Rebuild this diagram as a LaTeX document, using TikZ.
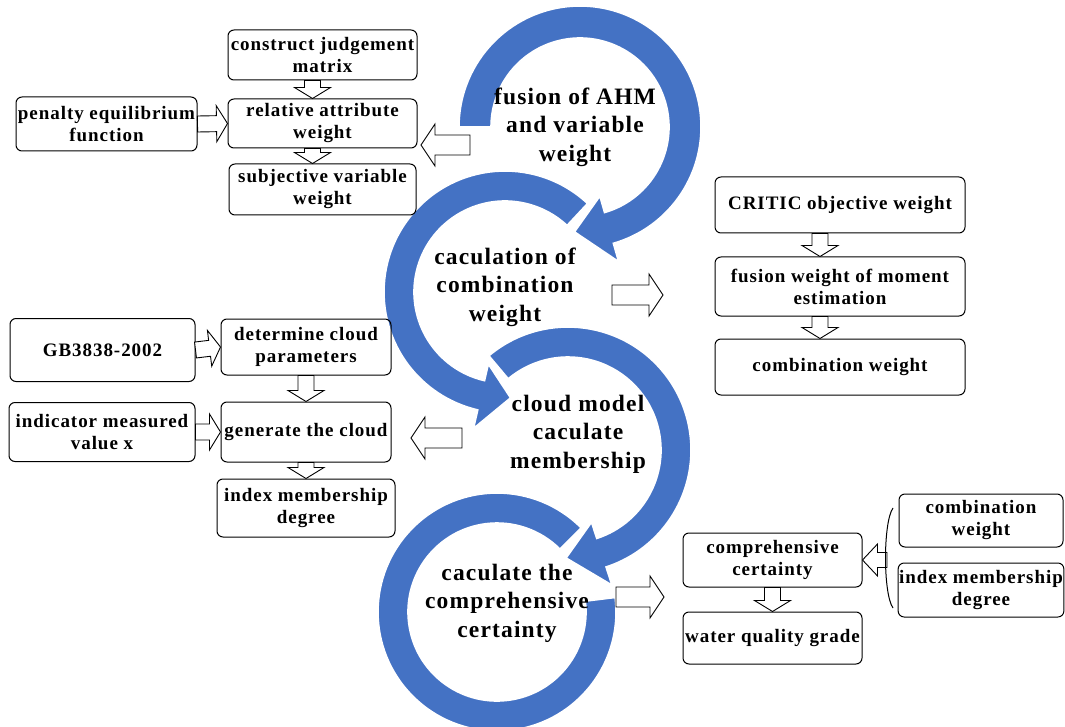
\documentclass[tikz,border=0pt]{standalone}
\usepackage{fontspec}
\setmainfont{Liberation Serif}[LetterSpace=5]
\usepackage{tikz}
\usetikzlibrary{calc, positioning}
\definecolor{ringblue}{RGB}{68,114,196}

% ring arrow: center, start angle, end angle, tip angle, outer radius, inner radius
\newcommand{\cyclearrow}[6]{%
  \fill[ring, shift={(#1)}] (#2:#5) arc[start angle=#2, end angle=#3, radius=#5]
    -- (#3:{#5+19}) -- (#4:{(#5+#6)/2}) -- (#3:{#6-17}) -- (#3:#6)
    arc[start angle=#3, end angle=#2, radius=#6] -- cycle;}

\begin{document}
\begin{tikzpicture}[
    x=1pt, y=-1pt,
    box/.style={rectangle, draw, line width=1pt, rounded corners=6pt, align=center, inner sep=1pt, font=\fontsize{19}{22}\selectfont\bfseries},
    cycletext/.style={align=center, font=\fontsize{23.5}{28.5}\selectfont\bfseries},
    ring/.style={fill=ringblue, draw=white, line width=1.6pt},
    hollow/.style n args={3}{draw, fill=white, line width=0.9pt, to path={
        ($(\tikztostart)!#1!90:(\tikztotarget)$)
        -- ($(\tikztotarget)!#3!(\tikztostart)!#1!90:(\tikztotarget)$)
        -- ($(\tikztotarget)!#3!(\tikztostart)!#2!90:(\tikztotarget)$)
        -- (\tikztotarget)
        -- ($(\tikztotarget)!#3!(\tikztostart)!#2!-90:(\tikztotarget)$)
        -- ($(\tikztotarget)!#3!(\tikztostart)!#1!-90:(\tikztotarget)$)
        -- ($(\tikztostart)!#1!-90:(\tikztotarget)$) -- cycle}},
    smallarrow/.style={hollow={8pt}{18pt}{11pt}},
    bigarrow/.style={hollow={10pt}{21pt}{14pt}}
]
% Page
\fill[white] (0,0) rectangle (1065,727);
\useasboundingbox (0,0) rectangle (1065,727);

% Cycle arrows, last one first so each later arrow cuts a white gap
\fill[ring, shift={(497,612)}] (-45:119) arc[start angle=-45, end angle=-367, radius=119]
    -- (-367:89) arc[start angle=-367, end angle=-45, radius=89] -- cycle;
\cyclearrow{568,450}{-130}{72}{91}{123}{93}
\cyclearrow{505,292}{-47}{-257}{-273}{121}{91}
\cyclearrow{580,127}{-180}{74}{93}{121}{89}

% Cycle labels
\node[cycletext] (fusion) at (575,127) {fusion of AHM\\and variable\\weight};
\node[cycletext] (combination) at (505,287) {caculation of\\combination\\weight};
\node[cycletext] (cloud) at (578,434) {cloud model\\caculate\\membership};
\node[cycletext] (certainty) at (507,603) {caculate the\\comprehensive\\certainty};

% Top left: subjective weight
\node[box, minimum width=189pt, minimum height=50pt] (cjm) at (322.5,55) {construct judgement\\matrix};
\node[box, minimum width=189pt, minimum height=49pt, below=18pt of cjm] (raw) {relative attribute\\weight};
\node[box, minimum width=187pt, minimum height=51pt, below=15pt of raw] (svw) {subjective variable\\weight};
\node[box, minimum width=181pt, minimum height=54pt] (pef) at (106.5,124) {penalty equilibrium\\function};

% Right: objective and combination weight
\node[box, minimum width=250pt, minimum height=56pt] (critic) at (840,205) {CRITIC objective weight};
\node[box, minimum width=250pt, minimum height=59pt, below=23pt of critic] (fwm) {fusion weight of moment\\estimation};
\node[box, minimum width=250pt, minimum height=56pt, below=22pt of fwm] (cw) {combination weight};

% Left middle: cloud model
\node[box, minimum width=185pt, minimum height=63pt] (gb) at (102.5,350) {GB3838-2002};
\node[box, minimum width=170pt, minimum height=56pt] (dcp) at (306,347) {determine cloud\\parameters};
\node[box, minimum width=170pt, minimum height=60pt, below=26pt of dcp] (gtc) {generate the cloud};
\node[box, minimum width=178pt, minimum height=58pt, below=16pt of gtc] (imd) {index membership\\degree};
\node[box, minimum width=186pt, minimum height=59pt] (imv) at (102,432) {indicator measured\\value x};

% Bottom right: certainty
\node[box, minimum width=164pt, minimum height=53pt] (cw2) at (981,520.5) {combination\\weight};
\node[box, minimum width=164pt, minimum height=54pt] (imd2) at (981,590) {index membership\\degree};
\node[box, minimum width=179pt, minimum height=54pt] (cc) at (772.5,560) {comprehensive\\certainty};
\node[box, minimum width=179pt, minimum height=52pt, below=24pt of cc] (wqg) {water quality grade};

% Arrow ends
\coordinate (cjmout) at ([xshift=-10pt]cjm.south);
\coordinate (rawin) at ([xshift=-10pt]raw.north);
\coordinate (rawout) at ([xshift=-10pt]raw.south);
\coordinate (svwin) at ([xshift=-10pt]svw.north);
\coordinate (criticout) at ([xshift=-20pt]critic.south);
\coordinate (fwmin) at ([xshift=-20pt]fwm.north);
\coordinate (fwmout) at ([xshift=-20pt]fwm.south);
\coordinate (cwin) at ([xshift=-20pt]cw.north);
\coordinate (fusionout) at (470,145);
\coordinate (fusionin) at (421,145);
\coordinate (combout) at (612,295);
\coordinate (combin) at (663,295);
\coordinate (cloudout) at (462,438);
\coordinate (cloudin) at (411,438);
\coordinate (certout) at (616,597);
\coordinate (certin) at (664,597);
\coordinate (brtop) at (893,508);
\coordinate (brbot) at (893,608);
\coordinate (brmid) at (887,560);

% Arrows
\draw[smallarrow] (cjmout) to (rawin);
\draw[smallarrow] (rawout) to (svwin);
\draw[smallarrow] (pef.east) to (raw.west);
\draw[smallarrow] (criticout) to (fwmin);
\draw[smallarrow] (fwmout) to (cwin);
\draw[smallarrow] (gb.east) to (dcp.west);
\draw[smallarrow] (imv.east) to (gtc.west);
\draw[smallarrow] (dcp.south) to (gtc.north);
\draw[smallarrow] (gtc.south) to (imd.north);
\draw[smallarrow] (cc.south) to (wqg.north);
\draw[hollow={7.5pt}{16pt}{15pt}] (brmid) to (cc.east);
\draw[bigarrow] (fusionout) to (fusionin);
\draw[bigarrow] (combout) to (combin);
\draw[bigarrow] (cloudout) to (cloudin);
\draw[bigarrow] (certout) to (certin);

% Bracket
\draw[line width=1pt] (brtop) .. controls (883,522) and (883,594) .. (brbot);
\end{tikzpicture}
\end{document}
